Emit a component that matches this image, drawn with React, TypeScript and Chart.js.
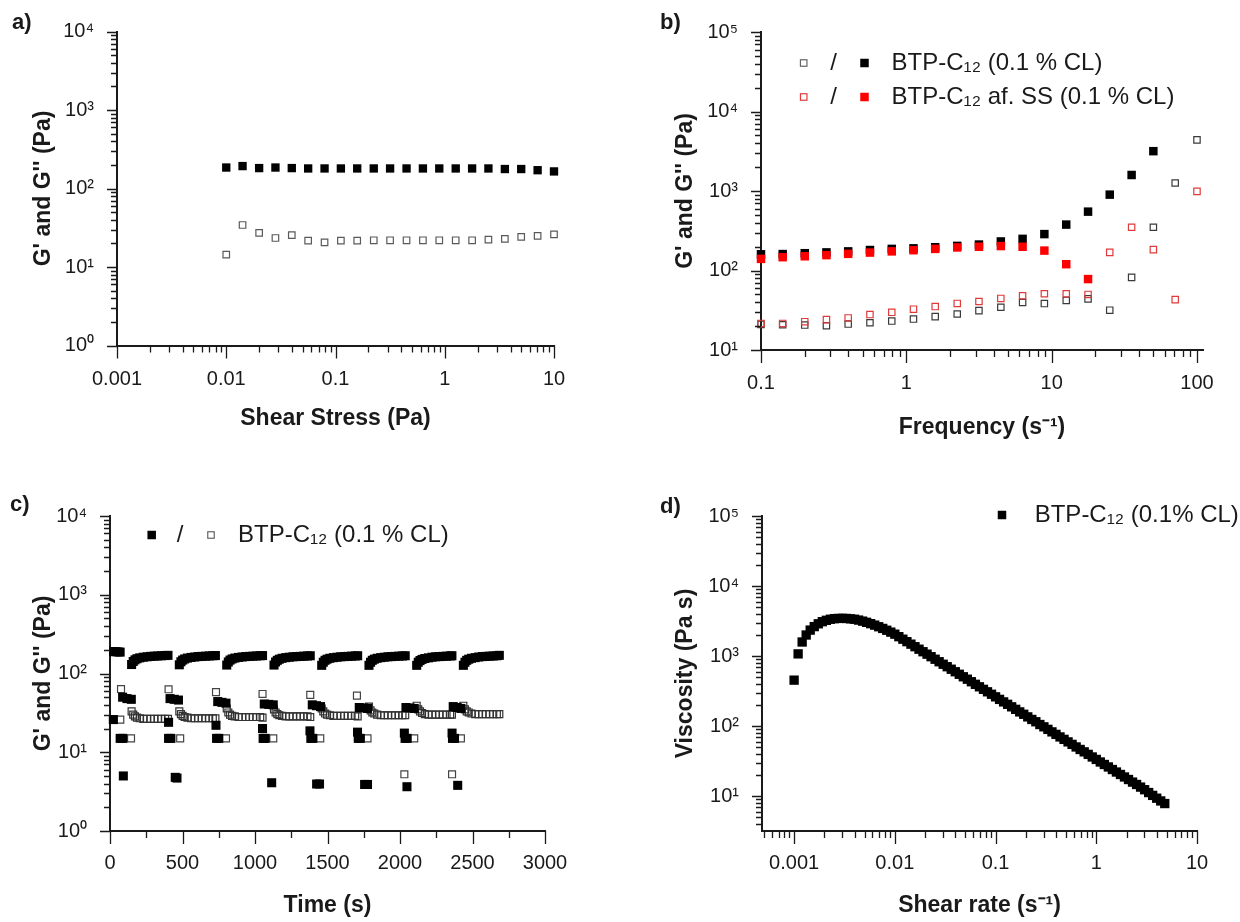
import React, { useEffect, useRef } from 'react';
import { Chart, registerables } from 'chart.js';

Chart.register(...registerables);

const FONT = '"Liberation Sans", Arial, Helvetica, sans-serif';
const INK = '#1a1a1a';

/* ---------------- a) stress sweep ---------------- */
const aStress = [0.01, 0.0141, 0.02, 0.0282, 0.0398, 0.0562, 0.0794, 0.112, 0.158, 0.224, 0.316, 0.447, 0.631, 0.891, 1.26, 1.78, 2.51, 3.55, 5.01, 7.08, 10];
const aGp = [185, 193, 182, 185, 182, 180, 180, 180, 180, 180, 180, 180, 180, 180, 180, 180, 180, 177, 177, 171, 165];
const aGpp = [14.4, 34.3, 27.2, 23.4, 25.4, 21.7, 20.6, 21.7, 21.7, 21.9, 21.9, 21.9, 21.9, 21.9, 21.9, 21.9, 22.3, 22.8, 24.2, 24.9, 26.1];
const aXTicks = [0.001, 0.01, 0.1, 1, 10];
const aXLabels = ['0.001', '0.01', '0.1', '1', '10'];
const aYTicks = [1, 10, 100, 1000, 10000];
const aYLabels = ['10⁰', '10¹', '10²', '10³', '10⁴'];

/* ---------------- b) frequency sweep ---------------- */
const bFreq = [0.1, 0.141, 0.2, 0.282, 0.398, 0.562, 0.794, 1.12, 1.58, 2.24, 3.16, 4.47, 6.31, 8.91, 12.6, 17.8, 25.1, 35.5, 50.1, 70.8, 100];
const bGp = [160, 161, 165, 169, 174, 181, 187, 190, 196, 204, 212, 232, 250, 287, 378, 550, 900, 1590, 3170];
const bGpp = [21, 20.8, 20.6, 20.2, 21.2, 22.0, 23.1, 24.5, 26.3, 28.4, 31.3, 34.5, 39.6, 38.4, 42, 44, 31.7, 82, 350, 1260, 4400];
const bGpSS = [140, 147, 151, 156, 162, 168, 174, 180, 187, 195, 199, 203, 199, 178, 120, 78];
const bGppSS = [21.6, 21.6, 22.7, 24.1, 25.3, 27.9, 29.8, 32.6, 35.2, 38.5, 40.7, 44.5, 48.1, 51, 51, 50, 169, 350, 183, 43, 990];
const bXTicks = [0.1, 1, 10, 100];
const bXLabels = ['0.1', '1', '10', '100'];
const bYTicks = [10, 100, 1000, 10000, 100000];
const bYLabels = ['10¹', '10²', '10³', '10⁴', '10⁵'];

/* ---------------- c) step strain / recovery ---------------- */
const cSweepTime = [
  149, 160, 172, 186, 205, 230, 255, 280, 305, 330, 355, 380, 400,
  478, 489, 501, 515, 534, 559, 584, 609, 634, 659, 684, 709, 727,
  805, 816, 828, 842, 861, 886, 911, 936, 961, 986, 1011, 1036, 1052,
  1131, 1142, 1154, 1168, 1187, 1212, 1237, 1262, 1287, 1312, 1337, 1362, 1381,
  1460, 1471, 1483, 1497, 1516, 1541, 1566, 1591, 1616, 1641, 1666, 1691, 1708,
  1786, 1797, 1809, 1823, 1842, 1867, 1892, 1917, 1942, 1967, 1992, 2017, 2036,
  2115, 2126, 2138, 2152, 2171, 2196, 2221, 2246, 2271, 2296, 2321, 2346, 2358,
  2437, 2448, 2460, 2474, 2493, 2518, 2543, 2568, 2593, 2618, 2643, 2668, 2685,
];
const cSweepGp = [
  130, 142, 149, 154, 158, 161, 163, 165, 166, 167, 168, 169, 170,
  129, 141, 148, 153, 157, 160, 162, 164, 165, 166, 167, 168, 169,
  128, 140, 148, 153, 157, 160, 162, 164, 165, 166, 167, 168, 169,
  128, 140, 147, 152, 156, 159, 161, 163, 164, 165, 166, 167, 168,
  127, 139, 147, 152, 156, 159, 161, 163, 164, 165, 166, 167, 168,
  127, 139, 147, 152, 156, 159, 161, 163, 164, 165, 166, 167, 168,
  127, 139, 146, 151, 155, 158, 161, 163, 164, 165, 166, 167, 168,
  127, 139, 147, 152, 156, 159, 162, 164, 165, 166, 167, 168, 170,
];
const cSweepGpp = [
  33, 30, 28.5, 27.5, 27, 26.5, 26.5, 26.5, 26.5, 26.5, 26.5, 26.5, 26.5,
  33, 30.5, 29, 28, 27.5, 27, 27, 27, 27, 27, 27, 27, 27,
  36, 32, 30, 29, 28.5, 28, 28, 28, 28, 28, 28, 28, 27.5,
  35, 32, 30.5, 29.5, 29, 28.5, 28.5, 28.5, 28.5, 28.5, 28.5, 28.5, 28,
  36, 33, 31, 30, 29.5, 29, 29, 29, 29, 29, 29, 29, 28.5,
  38, 34, 32, 31, 30, 29.5, 29.5, 29.5, 29.5, 29.5, 29.5, 29.5, 29.5,
  39, 35, 33, 31.5, 30.5, 30, 30, 30, 30, 30, 30, 30, 30,
  39, 35, 33, 32, 31, 30.5, 30.5, 30.5, 30.5, 30.5, 30.5, 30.5, 30.5,
];
const cOtherGpTime = [25, 40, 55, 70, 23, 70, 88, 87, 117, 147, 92, 404, 404, 420, 414, 443, 472, 450, 462, 731, 735, 750, 743, 772, 800, 1052, 1056, 1070, 1064, 1095, 1126, 1115, 1379, 1385, 1398, 1395, 1424, 1452, 1425, 1445, 1707, 1712, 1726, 1719, 1748, 1776, 1756, 1776, 2030, 2035, 2049, 2041, 2070, 2098, 2048, 2359, 2362, 2376, 2367, 2394, 2420, 2398];
const cOtherGp = [190, 189, 188, 187, 26, 15, 15, 50, 48, 47, 5, 24, 15, 15, 48, 47, 46, 4.8, 4.7, 22, 15, 15, 44, 43, 42, 20, 15, 15, 41, 40.5, 40, 4.1, 18.7, 15, 15, 40, 39, 38, 3.95, 3.95, 18, 15, 15, 37, 36.5, 36, 3.9, 3.9, 17.5, 15, 15, 37, 36.5, 36, 3.65, 17.5, 15, 15, 38, 37, 36, 3.8];
const cOtherGppTime = [23, 71, 76, 145, 404, 484, 731, 800, 1052, 1126, 1381, 1450, 1703, 1776, 2030, 2098, 2359, 2420];
const cOtherGpp = [26, 26, 63.5, 15, 63, 15, 58, 15, 55, 15, 53.6, 15, 52.4, 15, 5.25, 15, 5.25, 15];
const cXTicks = [0, 500, 1000, 1500, 2000, 2500, 3000];
const cXLabels = ['0', '500', '1000', '1500', '2000', '2500', '3000'];
const cXMinor = [250, 750, 1250, 1750, 2250, 2750];
const cYTicks = [1, 10, 100, 1000, 10000];
const cYLabels = ['10⁰', '10¹', '10²', '10³', '10⁴'];

/* ---------------- d) flow curve ---------------- */
const dRate = [0.001, 0.001096, 0.001202, 0.001318, 0.001445, 0.001585, 0.001738, 0.001905, 0.002089, 0.002291, 0.002512, 0.002754, 0.00302, 0.003311, 0.003631, 0.003981, 0.004365, 0.004786, 0.005248, 0.005754, 0.00631, 0.006918, 0.007586, 0.008318, 0.00912, 0.01, 0.01096, 0.01202, 0.01318, 0.01445, 0.01585, 0.01738, 0.01905, 0.02089, 0.02291, 0.02512, 0.02754, 0.0302, 0.03311, 0.03631, 0.03981, 0.04365, 0.04786, 0.05248, 0.05754, 0.0631, 0.06918, 0.07586, 0.08318, 0.0912, 0.1, 0.1096, 0.1202, 0.1318, 0.1445, 0.1585, 0.1738, 0.1905, 0.2089, 0.2291, 0.2512, 0.2754, 0.302, 0.3311, 0.3631, 0.3981, 0.4365, 0.4786, 0.5248, 0.5754, 0.631, 0.6918, 0.7586, 0.8318, 0.912, 1.0, 1.096, 1.202, 1.318, 1.445, 1.585, 1.738, 1.905, 2.089, 2.291, 2.512, 2.754, 3.02, 3.311, 3.631, 3.981, 4.365, 4.786];
const dVisc = [452, 1072, 1585, 1995, 2344, 2630, 2884, 3090, 3236, 3350, 3412, 3443, 3451, 3436, 3396, 3350, 3258, 3148, 3027, 2897, 2761, 2618, 2477, 2333, 2193, 2051, 1888, 1738, 1603, 1476, 1358, 1250, 1151, 1062, 977, 899, 828, 762, 703, 647, 596, 548, 505, 466, 429, 394, 363, 334, 308, 284, 261, 240, 221, 204, 188, 173, 159, 147, 135, 124, 115, 105, 97.3, 89.5, 82.4, 75.9, 69.8, 64.4, 59.3, 54.6, 50.2, 46.2, 42.7, 39.3, 36.1, 33.3, 30.6, 28.2, 26.0, 23.9, 22.0, 20.3, 18.7, 17.2, 15.8, 14.6, 13.4, 12.3, 11.2, 10.2, 9.3, 8.5, 7.8];
const dXTicks = [0.001, 0.01, 0.1, 1, 10];
const dXLabels = ['0.001', '0.01', '0.1', '1', '10'];
const dYTicks = [10, 100, 1000, 10000, 100000];
const dYLabels = ['10¹', '10²', '10³', '10⁴', '10⁵'];

/* ---------------- helpers ---------------- */
const W = 620;
const H = 461;

function logMinor(min: number, max: number): number[] {
  const out: number[] = [];
  for (let e = Math.floor(Math.log10(min)) - 1; e <= Math.ceil(Math.log10(max)); e++) {
    for (let m = 2; m <= 9; m++) {
      const v = m * Math.pow(10, e);
      if (v >= min * 0.999 && v <= max * 1.001) out.push(v);
    }
  }
  return out;
}

const pts = (xs: number[], ys: number[]) => ys.map((y, i) => ({ x: xs[i], y }));

const filled = (label: string, data: any[], color: string, r: number) => ({
  label, data, pointStyle: 'rect', pointRadius: r, pointHoverRadius: r,
  backgroundColor: color, borderColor: color, borderWidth: 0, clip: false,
});
const open = (label: string, data: any[], color: string, r: number, fill = 'rgba(255,255,255,0)') => ({
  label, data, pointStyle: 'rect', pointRadius: r, pointHoverRadius: r,
  backgroundColor: fill, borderColor: color, borderWidth: 1.2, clip: false,
});

type Mark =
  | { kind: 'rect'; x: number; y: number; s: number; fill?: string; stroke?: string }
  | { kind: 'text'; x: number; y: number; text: string; font: string; align: CanvasTextAlign };

interface AxisSpec {
  type: 'logarithmic' | 'linear';
  min: number; max: number;
  ticks: number[]; labels: string[]; minor: number[];
  title: string; titlePad: number; labelPad: number;
}
interface PanelSpec {
  left: number; top: number;
  area: { left: number; right: number; top: number; bottom: number };
  x: AxisSpec; y: AxisSpec;
  datasets: any[];
  marks: Mark[];
}

const LEG = `24px ${FONT}`;
const LAB = `bold 22px ${FONT}`;

function makeDecor(s: PanelSpec) {
  return {
    id: 'decor',
    afterDraw(chart: any) {
      const ctx = chart.ctx as CanvasRenderingContext2D;
      const a = chart.chartArea;
      const xs = chart.scales.x;
      const ys = chart.scales.y;
      ctx.save();
      ctx.strokeStyle = INK;
      ctx.lineWidth = 1.3;
      ctx.beginPath();
      const xt = (v: number, len: number) => {
        const p = Math.round(xs.getPixelForValue(v)) + 0.5;
        ctx.moveTo(p, a.bottom);
        ctx.lineTo(p, a.bottom + len);
      };
      const yt = (v: number, len: number) => {
        const p = Math.round(ys.getPixelForValue(v)) + 0.5;
        ctx.moveTo(a.left, p);
        ctx.lineTo(a.left - len, p);
      };
      s.x.ticks.forEach((v) => xt(v, 13));
      s.x.minor.forEach((v) => xt(v, 7));
      s.y.ticks.forEach((v) => yt(v, 10));
      s.y.minor.forEach((v) => yt(v, 6));
      ctx.stroke();
      for (const m of s.marks) {
        if (m.kind === 'rect') {
          if (m.fill) {
            ctx.fillStyle = m.fill;
            ctx.fillRect(m.x - m.s / 2, m.y - m.s / 2, m.s, m.s);
          }
          if (m.stroke) {
            ctx.strokeStyle = m.stroke;
            ctx.lineWidth = 1.2;
            ctx.strokeRect(m.x - m.s / 2, m.y - m.s / 2, m.s, m.s);
          }
        } else {
          ctx.fillStyle = INK;
          ctx.font = m.font;
          ctx.textAlign = m.align;
          ctx.textBaseline = 'middle';
          ctx.fillText(m.text, m.x, m.y);
        }
      }
      ctx.restore();
    },
  };
}

function axisOptions(ax: AxisSpec, isX: boolean, s: PanelSpec) {
  return {
    type: ax.type,
    position: isX ? 'bottom' : 'left',
    min: ax.min,
    max: ax.max,
    grid: { display: false, drawTicks: true, tickLength: isX ? 13 : 10 },
    border: { display: true, color: INK, width: 2 },
    ticks: {
      autoSkip: false,
      maxRotation: 0,
      minRotation: 0,
      padding: ax.labelPad,
      color: INK,
      font: { family: FONT, size: 20 },
      callback: (_v: any, i: number) => ax.labels[i],
    },
    title: {
      display: true,
      text: ax.title,
      color: INK,
      font: { family: FONT, size: 23, weight: 'bold' },
      padding: isX ? { top: 0, bottom: ax.titlePad } : { top: ax.titlePad, bottom: 0 },
    },
    afterBuildTicks: (sc: any) => {
      sc.ticks = ax.ticks.map((v) => ({ value: v }));
    },
    afterFit: (sc: any) => {
      if (isX) sc.height = H - s.area.bottom;
      else sc.width = s.area.left;
    },
  };
}

function buildConfig(s: PanelSpec): any {
  return {
    type: 'scatter',
    data: { datasets: s.datasets },
    plugins: [makeDecor(s)],
    options: {
      responsive: false,
      maintainAspectRatio: false,
      animation: false,
      events: [],
      layout: { padding: { left: 0, bottom: 0, top: s.area.top, right: W - s.area.right } },
      plugins: { legend: { display: false }, tooltip: { enabled: false } },
      scales: { x: axisOptions(s.x, true, s), y: axisOptions(s.y, false, s) },
    },
  };
}

/* ---------------- panel specs ---------------- */
const panelA: PanelSpec = {
  left: 0, top: 0,
  area: { left: 117, right: 554, top: 31.5, bottom: 345.5 },
  x: { type: 'logarithmic', min: 0.001, max: 10, ticks: aXTicks, labels: aXLabels, minor: logMinor(0.001, 10), title: 'Shear Stress (Pa)', titlePad: 29, labelPad: 9 },
  y: { type: 'logarithmic', min: 1, max: 10000, ticks: aYTicks, labels: aYLabels, minor: logMinor(1, 10000), title: "G' and G'' (Pa)", titlePad: 30, labelPad: 13 },
  datasets: [
    filled("G' BTP-C12", pts(aStress, aGp), '#000', 5.9),
    open("G'' BTP-C12", pts(aStress, aGpp), '#5a5a5a', 4.6),
  ],
  marks: [{ kind: 'text', x: 12, y: 23, text: 'a)', font: LAB, align: 'left' }],
};

const panelB: PanelSpec = {
  left: 620, top: 0,
  area: { left: 141, right: 583, top: 32, bottom: 350 },
  x: { type: 'logarithmic', min: 0.1, max: 110, ticks: bXTicks, labels: bXLabels, minor: logMinor(0.1, 110), title: 'Frequency (s⁻¹)', titlePad: 20, labelPad: 8 },
  y: { type: 'logarithmic', min: 10, max: 100000, ticks: bYTicks, labels: bYLabels, minor: logMinor(10, 100000), title: "G' and G'' (Pa)", titlePad: 52, labelPad: 13 },
  datasets: [
    filled("G' BTP-C12 af. SS", pts(bFreq, bGpSS), '#ff0000', 6),
    filled("G' BTP-C12", pts(bFreq, bGp), '#000', 6),
    open("G'' BTP-C12 af. SS", pts(bFreq, bGppSS), '#e03a3a', 4.5),
    open("G'' BTP-C12", pts(bFreq, bGpp), '#3a3a3a', 4.5),
  ],
  marks: [
    { kind: 'text', x: 40, y: 23, text: 'b)', font: LAB, align: 'left' },
    { kind: 'rect', x: 183.7, y: 63, s: 6.5, stroke: '#666' },
    { kind: 'text', x: 213.5, y: 63, text: '/', font: LEG, align: 'center' },
    { kind: 'rect', x: 244.5, y: 63, s: 8.5, fill: '#000' },
    { kind: 'text', x: 271.6, y: 63, text: 'BTP-C₁₂ (0.1 % CL)', font: LEG, align: 'left' },
    { kind: 'rect', x: 183.7, y: 97, s: 6.5, stroke: '#e03a3a' },
    { kind: 'text', x: 213.5, y: 97, text: '/', font: LEG, align: 'center' },
    { kind: 'rect', x: 244.5, y: 97, s: 8.5, fill: '#ff0000' },
    { kind: 'text', x: 271.6, y: 97, text: 'BTP-C₁₂ af. SS (0.1 % CL)', font: LEG, align: 'left' },
  ],
};

const panelC: PanelSpec = {
  left: 0, top: 461,
  area: { left: 110, right: 545, top: 55, bottom: 370 },
  x: { type: 'linear', min: 0, max: 3000, ticks: cXTicks, labels: cXLabels, minor: cXMinor, title: 'Time (s)', titlePad: 3, labelPad: 7 },
  y: { type: 'logarithmic', min: 1, max: 10000, ticks: cYTicks, labels: cYLabels, minor: logMinor(1, 10000), title: "G' and G'' (Pa)", titlePad: 30, labelPad: 13 },
  datasets: [
    filled("G' recovery", pts(cSweepTime, cSweepGp), '#000', 6.4),
    filled("G' step", pts(cOtherGpTime, cOtherGp), '#000', 6.4),
    open("G'' recovery", pts(cSweepTime, cSweepGpp), '#333333', 4.9),
    open("G'' step", pts(cOtherGppTime, cOtherGpp), '#444444', 4.9),
  ],
  marks: [
    { kind: 'text', x: 10, y: 44, text: 'c)', font: LAB, align: 'left' },
    { kind: 'rect', x: 151.7, y: 74, s: 8.5, fill: '#000' },
    { kind: 'text', x: 180, y: 74, text: '/', font: LEG, align: 'center' },
    { kind: 'rect', x: 211, y: 74, s: 6.5, stroke: '#666' },
    { kind: 'text', x: 238, y: 74, text: 'BTP-C₁₂ (0.1 % CL)', font: LEG, align: 'left' },
  ],
};

const panelD: PanelSpec = {
  left: 620, top: 461,
  area: { left: 142, right: 577, top: 55, bottom: 370 },
  x: { type: 'logarithmic', min: 0.00048, max: 10, ticks: dXTicks, labels: dXLabels, minor: logMinor(0.00048, 10), title: 'Shear rate (s⁻¹)', titlePad: 3, labelPad: 7 },
  y: { type: 'logarithmic', min: 3.162, max: 100000, ticks: dYTicks, labels: dYLabels, minor: logMinor(3.162, 100000), title: 'Viscosity (Pa s)', titlePad: 52, labelPad: 13 },
  datasets: [filled('BTP-C12 (0.1% CL)', pts(dRate, dVisc), '#000', 6.6)],
  marks: [
    { kind: 'text', x: 40, y: 46, text: 'd)', font: LAB, align: 'left' },
    { kind: 'rect', x: 382, y: 54, s: 8.5, fill: '#000' },
    { kind: 'text', x: 414.7, y: 54, text: 'BTP-C₁₂ (0.1% CL)', font: LEG, align: 'left' },
  ],
};

function Panel({ spec }: { spec: PanelSpec }) {
  const ref = useRef<HTMLCanvasElement>(null);
  useEffect(() => {
    if (!ref.current) return;
    const chart = new Chart(ref.current, buildConfig(spec));
    return () => chart.destroy();
  }, [spec]);
  return (
    <canvas
      ref={ref}
      width={W}
      height={H}
      style={{ position: 'absolute', left: spec.left, top: spec.top, width: W, height: H }}
    />
  );
}

export default function App() {
  return (
    <div style={{ position: 'absolute', left: 0, top: 0, width: 1240, height: 922, background: '#ffffff', overflow: 'hidden' }}>
      <Panel spec={panelA} />
      <Panel spec={panelB} />
      <Panel spec={panelC} />
      <Panel spec={panelD} />
    </div>
  );
}
